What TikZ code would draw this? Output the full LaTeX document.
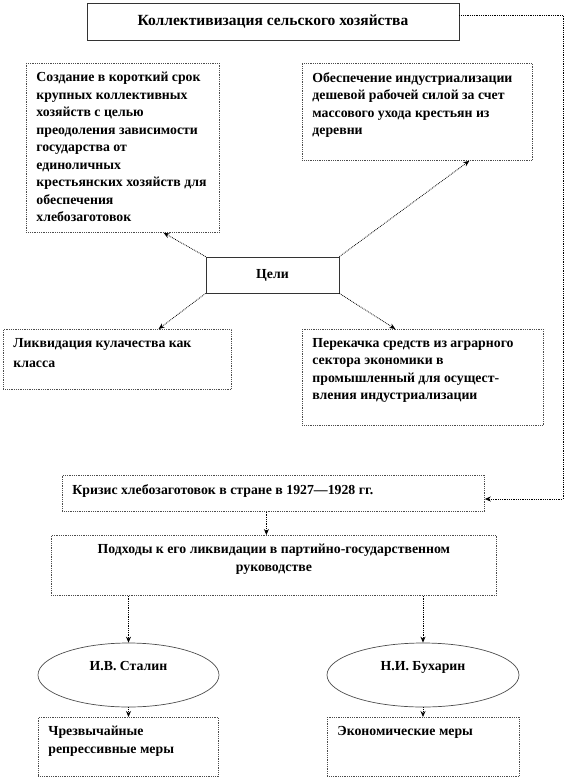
\documentclass[tikz,border=0pt]{standalone}
\usepackage{fontspec}
\setmainfont{Liberation Serif}
\usetikzlibrary{shapes.geometric,arrows.meta,calc}
\newcommand{\cellbody}[3]{\parbox[t][#2][t]{#1}{\vspace*{3pt}\raggedright #3}}
\newcommand{\midbody}[3]{\parbox[t][#2][t]{#1}{\vspace*{3pt}\centering #3}}

\begin{document}
\begin{tikzpicture}[
        x=1pt, y=-1pt,
        every node/.style={font=\bfseries\fontsize{13.8}{17.5}\selectfont, text=black},
        frame/.style={draw=black!80, line width=0.8pt},
        cell/.style={draw=black!70, densely dotted, line width=0.8pt, anchor=north west, inner xsep=10pt, inner ysep=6pt},
        oval/.style={ellipse, draw=black!70, line width=0.7pt, text height=9pt, text depth=19pt},
        link/.style={draw, densely dotted, line width=0.8pt, -{Stealth[length=6pt, width=5pt]}},
    ]
    \useasboundingbox (0,0) rectangle (568,780);

    \node[frame, minimum width=372pt, minimum height=37pt, font=\bfseries\fontsize{15.5}{18}\selectfont](collect) at (273,21.5){Коллективизация сельского хозяйства};
    \node[frame, minimum width=133pt, minimum height=36pt](goals) at (272.5,275){Цели};

    % goals
    \node[cell](create) at (26,63){\cellbody{173pt}{157pt}{Создание в короткий срок\\
        крупных коллективных\\ хозяйств с целью\\ преодоления зависимости\\
        государства от\\ единоличных\\ крестьянских хозяйств для\\ обеспечения\\ хлебозаготовок}};
    \node[cell](industry) at (302,63){\cellbody{210pt}{85pt}{Обеспечение индустриализации\\
        дешевой рабочей силой за счет\\ массового ухода крестьян из\\ деревни}};
    \node[cell](kulak) at (3,329){\cellbody{208pt}{48pt}{Ликвидация кулачества как\\[3pt] класса}};
    \node[cell](transfer) at (302,329){\cellbody{221pt}{84pt}{Перекачка средств из аграрного\\
        сектора экономики в\\ промышленный для осущест-\\ вления индустриализации}};

    % crisis
    \node[cell](crisis) at (62,475){\cellbody{402pt}{24pt}{Кризис хлебозаготовок в стране в 1927—1928 гг.}};
    \node[cell](approach) at (51,535){\midbody{425pt}{48pt}{Подходы к его ликвидации в партийно-государственном\\ руководстве}};
    \node[oval, minimum width=181pt, minimum height=64pt](stalin) at (128.5,675){И.В. Сталин};
    \node[oval, minimum width=192pt, minimum height=64pt](bukharin) at (423,675){Н.И. Бухарин};
    \node[cell](repress) at (38,717){\cellbody{160pt}{47pt}{Чрезвычайные\\ репрессивные меры}};
    \node[cell](economic) at (327,717){\cellbody{172pt}{47pt}{Экономические меры}};

    \coordinate (turn1) at (563,15);
    \coordinate (turn2) at (563,499);
    \draw[link] (collect.east |- turn1) -- (turn1) -- (turn2) -- (crisis.east |- turn2);

    \draw[link] (goals.north west) -- ($(create.south west)!0.71!(create.south east)$);
    \draw[link] (goals.north east) -- ($(industry.south west)!0.725!(industry.south east)$);
    \draw[link] (goals.south west) -- ($(kulak.north west)!0.68!(kulak.north east)$);
    \draw[link] (goals.south east) -- ($(transfer.north west)!0.386!(transfer.north east)$);

    \draw[link] ([xshift=-7pt]crisis.south) -- ([xshift=-7pt]crisis.south |- approach.north);
    \draw[link] (stalin.north |- approach.south) -- (stalin.north);
    \draw[link] (bukharin.north |- approach.south) -- (bukharin.north);
    \draw[link] (stalin.south) -- (stalin.south |- repress.north);
    \draw[link] (bukharin.south) -- (bukharin.south |- economic.north);

\end{tikzpicture}
\end{document}
